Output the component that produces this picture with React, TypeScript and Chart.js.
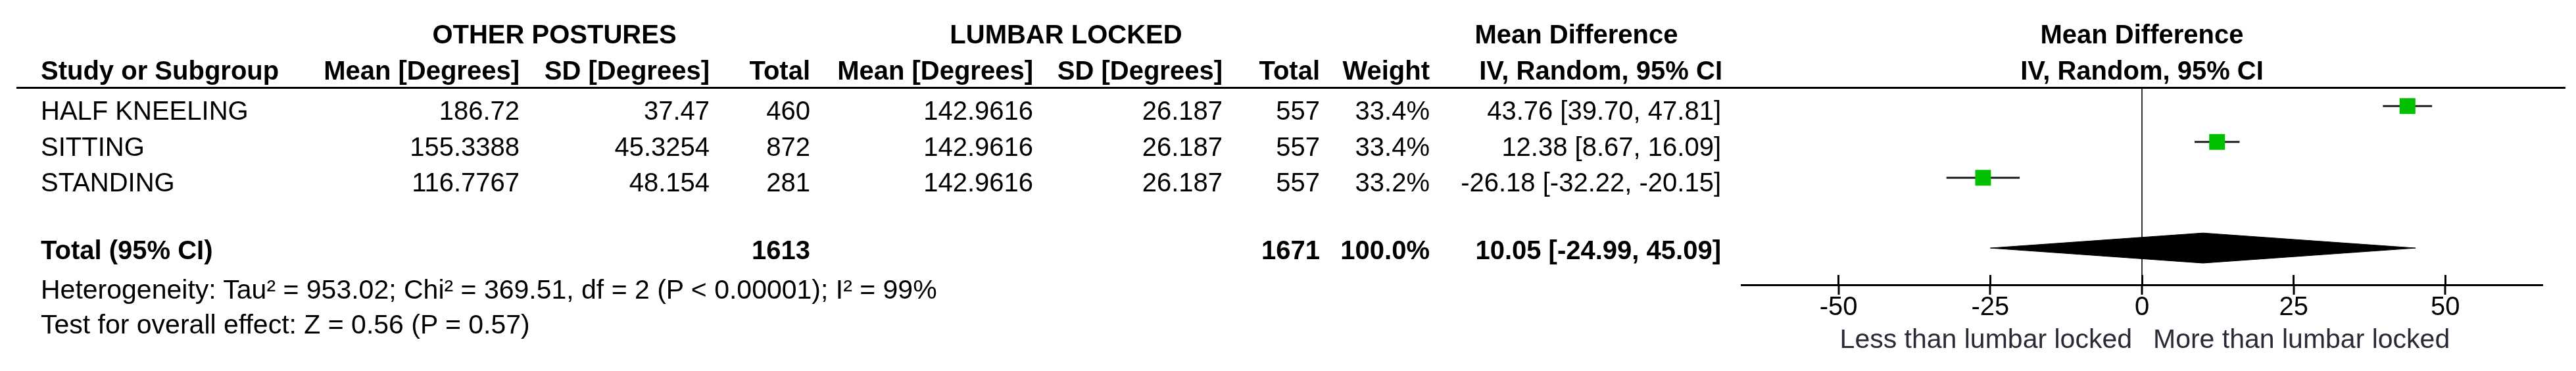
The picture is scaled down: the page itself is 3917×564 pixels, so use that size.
import React, { useEffect, useRef } from "react";
import { Chart, registerables } from "chart.js";

Chart.register(...registerables);

const W = 3917;
const H = 564;
const FONT = '"Liberation Sans", Arial, Helvetica, sans-serif';

// ---------- data ----------
const studies = ["HALF KNEELING", "SITTING", "STANDING"];
const otherMean = [186.72, 155.3388, 116.7767];
const otherSD = [37.47, 45.3254, 48.154];
const otherTotal = [460, 872, 281];
const lockedMean = [142.9616, 142.9616, 142.9616];
const lockedSD = [26.187, 26.187, 26.187];
const lockedTotal = [557, 557, 557];
const weights = [33.4, 33.4, 33.2];
const meanDiff = [43.76, 12.38, -26.18];
const ciLow = [39.7, 8.67, -32.22];
const ciHigh = [47.81, 16.09, -20.15];

const totalOther = 1613;
const totalLocked = 1671;
const totalWeight = 100.0;
const pooledMD = 10.05;
const pooledLow = -24.99;
const pooledHigh = 45.09;

const xTicks = [-50, -25, 0, 25, 50];
const xMin = -66;
const xMax = 66;

const groupLeft = "OTHER POSTURES";
const groupRight = "LUMBAR LOCKED";
const heterogeneity =
  "Heterogeneity: Tau² = 953.02; Chi² = 369.51, df = 2 (P < 0.00001); I² = 99%";
const overallEffect = "Test for overall effect: Z = 0.56 (P = 0.57)";
const favoursLeft = "Less than lumbar locked";
const favoursRight = "More than lumbar locked";

// ---------- helpers ----------
type Align = "left" | "right" | "center";
function T(props: {
  x: number;
  y: number;
  align?: Align;
  bold?: boolean;
  size?: number;
  color?: string;
  children: React.ReactNode;
}) {
  const { x, y, align = "left", bold = false, size = 40, color = "#000", children } = props;
  const style: React.CSSProperties = {
    position: "absolute",
    top: y - size / 2,
    fontFamily: FONT,
    fontSize: size,
    lineHeight: size + "px",
    fontWeight: bold ? 700 : 400,
    color,
    whiteSpace: "nowrap",
  };
  if (align === "left") style.left = x;
  else if (align === "right") style.right = W - x;
  else {
    style.left = x;
    style.transform = "translateX(-50%)";
  }
  return <div style={style}>{children}</div>;
}

const fmtCI = (m: number, l: number, h: number) =>
  `${m.toFixed(2)} [${l.toFixed(2)}, ${h.toFixed(2)}]`;

// column right edges / positions (layout)
const COL = {
  label: 62,
  oMean: 790,
  oSD: 1079,
  oTot: 1232,
  lMean: 1571,
  lSD: 1859,
  lTot: 2007,
  weight: 2174,
  ci: 2617,
  oGroup: 843,
  lGroup: 1621,
  mdHead: 2397,
  plotCenter: 3257,
};
const ROWY = { group: 52, head: 107, rows: [168, 222.5, 277], total: 380, het: 440, test: 493, fav: 515 };

const tickCross = {
  id: "tickCross",
  afterDatasetsDraw(chart: any) {
    const s = chart.scales.x;
    const ctx = chart.ctx;
    ctx.save();
    ctx.strokeStyle = "#000";
    ctx.lineWidth = 3;
    s.ticks.forEach((t: any) => {
      const px = Math.round(s.getPixelForValue(t.value) - 1.5) + 1.5;
      ctx.beginPath();
      ctx.moveTo(px, s.top - 15);
      ctx.lineTo(px, s.top);
      ctx.stroke();
    });
    ctx.restore();
  },
};

function ForestChart() {
  const ref = useRef<HTMLCanvasElement | null>(null);
  useEffect(() => {
    if (!ref.current) return;
    const rowPos = (i: number) => i + 0.5;
    const totalPos = 4.46;
    const DIAMOND_HALF = 0.42;
    const datasets: any[] = [];
    datasets.push({
      label: "squares",
      data: meanDiff.map((v, i) => ({ x: v, y: rowPos(i) })),
      showLine: false,
      pointStyle: "rect",
      pointRadius: weights.map((w) => 17 * Math.sqrt(w / 33.4)),
      pointBackgroundColor: "#00C000",
      pointBorderWidth: 0,
      order: 0,
    });
    meanDiff.forEach((_, i) => {
      datasets.push({
        label: "ci" + i,
        data: [
          { x: ciLow[i], y: rowPos(i) },
          { x: ciHigh[i], y: rowPos(i) },
        ],
        borderColor: "#1e1e1e",
        borderWidth: 3,
        pointRadius: 0,
        showLine: true,
        fill: false,
        order: 1,
      });
    });
    datasets.push({
      label: "diamondTop",
      data: [
        { x: pooledLow, y: totalPos },
        { x: pooledMD, y: totalPos - DIAMOND_HALF },
        { x: pooledHigh, y: totalPos },
      ],
      borderColor: "#000",
      borderWidth: 1,
      backgroundColor: "#000",
      pointRadius: 0,
      tension: 0,
      fill: "+1",
      order: 2,
    });
    datasets.push({
      label: "diamondBottom",
      data: [
        { x: pooledLow, y: totalPos },
        { x: pooledMD, y: totalPos + DIAMOND_HALF },
        { x: pooledHigh, y: totalPos },
      ],
      borderColor: "#000",
      borderWidth: 1,
      backgroundColor: "#000",
      pointRadius: 0,
      tension: 0,
      fill: false,
      order: 2,
    });

    const chart = new Chart(ref.current, {
      type: "line",
      data: { datasets },
      options: {
        animation: false,
        responsive: false,
        maintainAspectRatio: false,
        events: [],
        layout: { padding: { left: 2648, right: 51, top: 134, bottom: 0 } },
        plugins: { legend: { display: false }, tooltip: { enabled: false } },
        scales: {
          x: {
            type: "linear",
            min: xMin,
            max: xMax,
            afterBuildTicks: (s: any) => {
              s.ticks = xTicks.map((v) => ({ value: v }));
            },
            afterFit: (s: any) => {
              s.height = 131;
            },
            grid: {
              drawOnChartArea: true,
              color: (c: any) => (c.tick && c.tick.value === 0 ? "#333" : "rgba(0,0,0,0)"),
              lineWidth: 2,
              drawTicks: true,
              tickLength: 15,
              tickColor: "#000",
              tickWidth: 3,
            },
            border: { display: true, color: "#000", width: 3 },
            ticks: {
              font: { family: FONT, size: 40, lineHeight: 1 },
              color: "#000",
              padding: 0,
              maxRotation: 0,
              callback: (v: any) => String(v),
            },
          },
          y: { type: "linear", min: 0, max: 5.486, reverse: true, display: false },
        },
      } as any,
      plugins: [tickCross],
    } as any);
    return () => chart.destroy();
  }, []);
  return (
    <canvas ref={ref} width={W} height={H} style={{ position: "absolute", left: 0, top: 0 }} />
  );
}

export default function App() {
  return (
    <div
      style={{
        position: "absolute",
        left: 0,
        top: 0,
        width: W,
        height: H,
        background: "#fff",
        overflow: "hidden",
      }}
    >
      <ForestChart />
      {/* group headers */}
      <T x={COL.oGroup} y={ROWY.group} align="center" bold>{groupLeft}</T>
      <T x={COL.lGroup} y={ROWY.group} align="center" bold>{groupRight}</T>
      <T x={COL.mdHead} y={ROWY.group} align="center" bold>Mean Difference</T>
      <T x={COL.plotCenter} y={ROWY.group} align="center" bold>Mean Difference</T>
      {/* column headers */}
      <T x={COL.label} y={ROWY.head} bold>Study or Subgroup</T>
      <T x={COL.oMean} y={ROWY.head} align="right" bold>Mean [Degrees]</T>
      <T x={COL.oSD} y={ROWY.head} align="right" bold>SD [Degrees]</T>
      <T x={COL.oTot} y={ROWY.head} align="right" bold>Total</T>
      <T x={COL.lMean} y={ROWY.head} align="right" bold>Mean [Degrees]</T>
      <T x={COL.lSD} y={ROWY.head} align="right" bold>SD [Degrees]</T>
      <T x={COL.lTot} y={ROWY.head} align="right" bold>Total</T>
      <T x={COL.weight} y={ROWY.head} align="right" bold>Weight</T>
      <T x={COL.ci + 2} y={ROWY.head} align="right" bold>IV, Random, 95% CI</T>
      <T x={COL.plotCenter} y={ROWY.head} align="center" bold>IV, Random, 95% CI</T>
      <div
        style={{ position: "absolute", left: 25, top: 132, width: 3876, height: 3, background: "#000" }}
      />
      {/* study rows */}
      {studies.map((s, i) => (
        <React.Fragment key={s}>
          <T x={COL.label} y={ROWY.rows[i]}>{s}</T>
          <T x={COL.oMean} y={ROWY.rows[i]} align="right">{String(otherMean[i])}</T>
          <T x={COL.oSD} y={ROWY.rows[i]} align="right">{String(otherSD[i])}</T>
          <T x={COL.oTot} y={ROWY.rows[i]} align="right">{String(otherTotal[i])}</T>
          <T x={COL.lMean} y={ROWY.rows[i]} align="right">{String(lockedMean[i])}</T>
          <T x={COL.lSD} y={ROWY.rows[i]} align="right">{String(lockedSD[i])}</T>
          <T x={COL.lTot} y={ROWY.rows[i]} align="right">{String(lockedTotal[i])}</T>
          <T x={COL.weight} y={ROWY.rows[i]} align="right">{weights[i].toFixed(1) + "%"}</T>
          <T x={COL.ci} y={ROWY.rows[i]} align="right">{fmtCI(meanDiff[i], ciLow[i], ciHigh[i])}</T>
        </React.Fragment>
      ))}
      {/* total row */}
      <T x={COL.label} y={ROWY.total} bold>Total (95% CI)</T>
      <T x={COL.oTot} y={ROWY.total} align="right" bold>{String(totalOther)}</T>
      <T x={COL.lTot} y={ROWY.total} align="right" bold>{String(totalLocked)}</T>
      <T x={COL.weight} y={ROWY.total} align="right" bold>{totalWeight.toFixed(1) + "%"}</T>
      <T x={COL.ci} y={ROWY.total} align="right" bold>{fmtCI(pooledMD, pooledLow, pooledHigh)}</T>
      <T x={COL.label} y={ROWY.het} size={41}>{heterogeneity}</T>
      <T x={COL.label} y={ROWY.test} size={41}>{overallEffect}</T>
      {/* favours labels */}
      <T x={3242} y={ROWY.fav} align="right" size={41} color="#2a2a36">{favoursLeft}</T>
      <T x={3274} y={ROWY.fav} size={41} color="#2a2a36">{favoursRight}</T>
    </div>
  );
}
